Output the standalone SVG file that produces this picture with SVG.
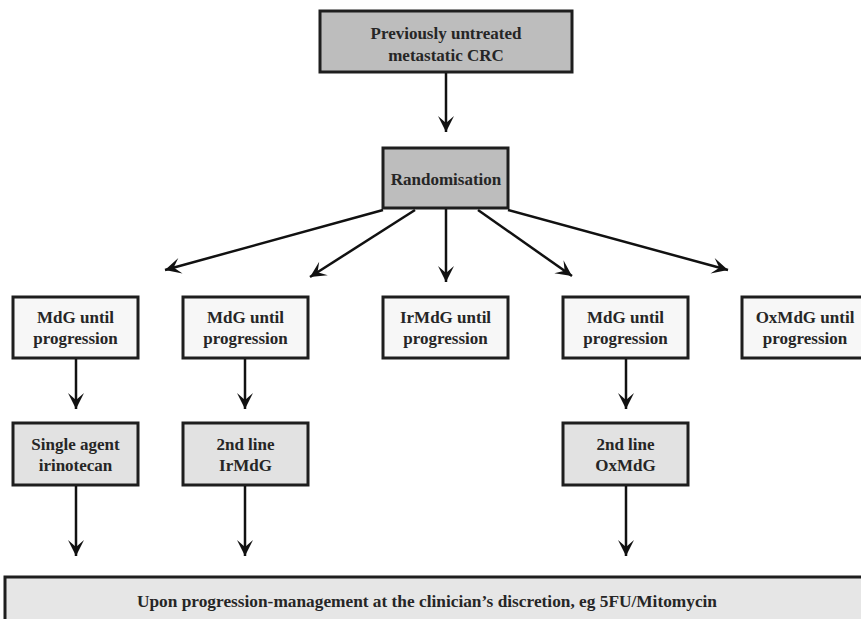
<svg xmlns="http://www.w3.org/2000/svg" width="861" height="619" viewBox="0 0 861 619">
<style>
.box{stroke:#1e1e1e;stroke-width:3}
.dark{fill:#bdbdbd}
.light{fill:#f7f7f7}
.mid{fill:#e2e2e2}
.bot{fill:#e6e6e6}
text{font-family:"Liberation Serif","Times New Roman",serif;font-weight:bold;font-size:17px;fill:#262626;text-anchor:middle}
.conn line{stroke:#111;stroke-width:2.5;marker-end:url(#ah)}
</style>
<defs>
<marker id="ah" markerUnits="userSpaceOnUse" viewBox="-17 -9 18 18" refX="0" refY="0" markerWidth="18" markerHeight="18" orient="auto">
<path d="M0,0 L-16,-8 L-9,0 L-16,8 Z" fill="#111"/>
</marker>
</defs>
<rect width="861" height="619" fill="#fff"/>
<g id="start">
<rect class="box dark" x="320" y="11" width="252" height="61"/>
<text x="446" y="39">Previously untreated</text>
<text x="446" y="61">metastatic CRC</text>
</g>
<g id="rand">
<rect class="box dark" x="383" y="148" width="125" height="60"/>
<text x="446" y="185">Randomisation</text>
</g>
<g id="arm1">
<rect class="box light" x="13" y="297" width="125" height="61"/>
<text x="75.5" y="323">MdG until</text>
<text x="75.5" y="344">progression</text>
</g>
<g id="arm2">
<rect class="box light" x="183" y="297" width="125" height="61"/>
<text x="245.5" y="323">MdG until</text>
<text x="245.5" y="344">progression</text>
</g>
<g id="arm3">
<rect class="box light" x="383" y="297" width="125" height="61"/>
<text x="445.5" y="323">IrMdG until</text>
<text x="445.5" y="344">progression</text>
</g>
<g id="arm4">
<rect class="box light" x="563" y="297" width="125" height="61"/>
<text x="625.5" y="323">MdG until</text>
<text x="625.5" y="344">progression</text>
</g>
<g id="arm5">
<rect class="box light" x="742" y="297" width="126" height="61"/>
<text x="805" y="323">OxMdG until</text>
<text x="805" y="344">progression</text>
</g>
<g id="second1">
<rect class="box mid" x="13" y="423" width="125" height="62"/>
<text x="75.5" y="450">Single agent</text>
<text x="75.5" y="471">irinotecan</text>
</g>
<g id="second2">
<rect class="box mid" x="183" y="423" width="125" height="62"/>
<text x="245.5" y="450">2nd line</text>
<text x="245.5" y="471">IrMdG</text>
</g>
<g id="second4">
<rect class="box mid" x="563" y="423" width="125" height="62"/>
<text x="625.5" y="450">2nd line</text>
<text x="625.5" y="471">OxMdG</text>
</g>
<g id="final">
<rect class="box bot" x="5" y="577" width="870" height="60"/>
<text x="427" y="607" style="font-size:16.5px" textLength="580" lengthAdjust="spacingAndGlyphs">Upon progression-management at the clinician’s discretion, eg 5FU/Mitomycin</text>
</g>
<g class="conn" id="connectors">
<line x1="446" y1="73" x2="446" y2="132"/>
<line x1="383" y1="210" x2="165" y2="270"/>
<line x1="415" y1="210" x2="310" y2="277"/>
<line x1="446" y1="209" x2="446" y2="282"/>
<line x1="478" y1="210" x2="572" y2="276"/>
<line x1="508" y1="210" x2="728" y2="270"/>
<line x1="76" y1="359" x2="76" y2="409"/>
<line x1="245" y1="359" x2="245" y2="409"/>
<line x1="626" y1="359" x2="626" y2="409"/>
<line x1="76" y1="486" x2="76" y2="556"/>
<line x1="245" y1="486" x2="245" y2="556"/>
<line x1="626" y1="486" x2="626" y2="556"/>
</g>
</svg>
